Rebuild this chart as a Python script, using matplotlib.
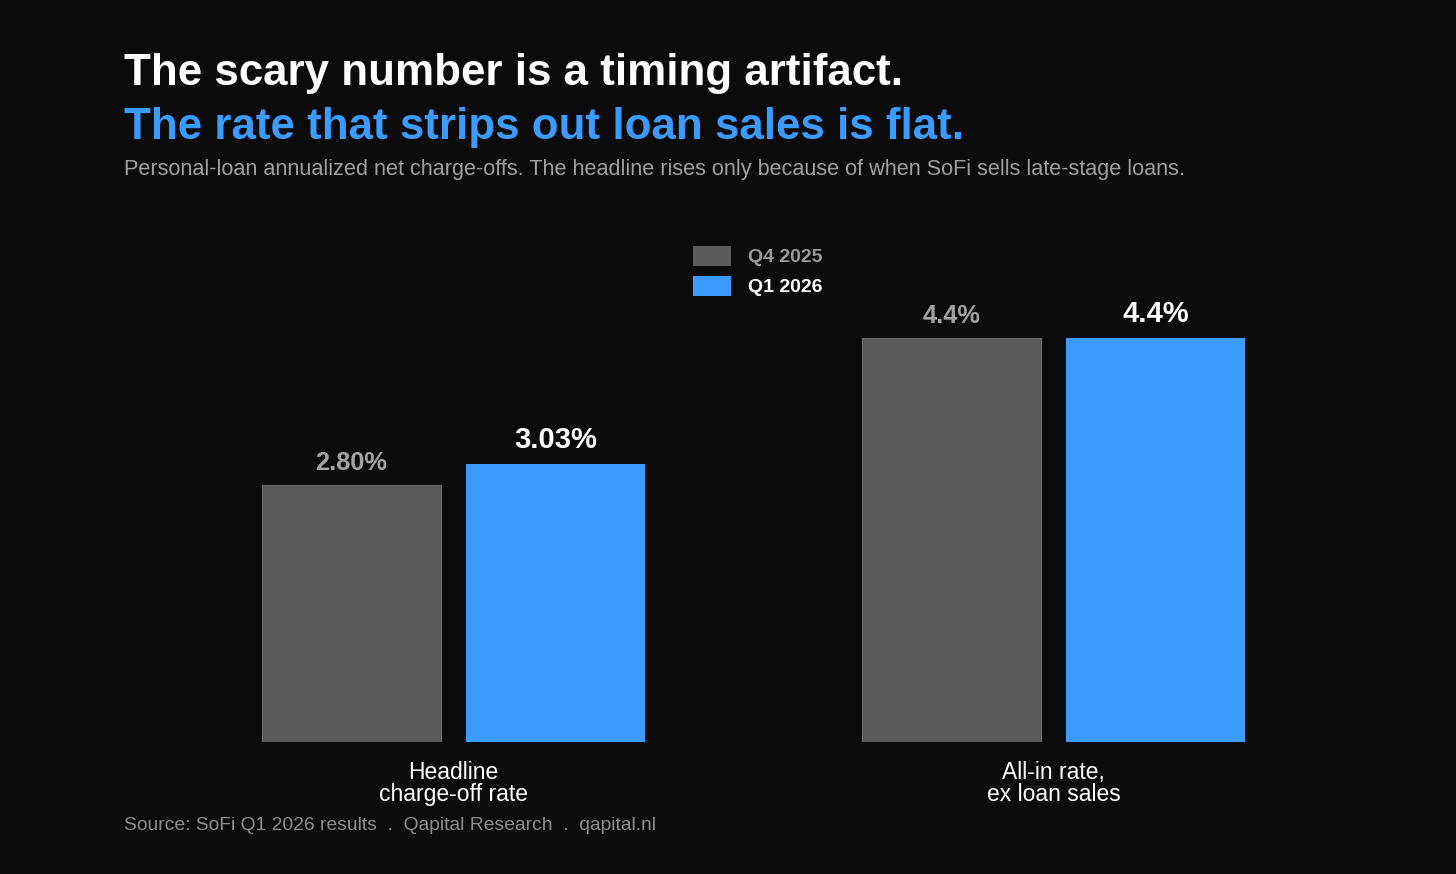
import numpy as np
import matplotlib.pyplot as plt
from matplotlib.patches import Rectangle

plt.rcParams['font.family'] = ['Liberation Sans', 'DejaVu Sans']

categories = ['Headline\ncharge-off rate', 'All-in rate,\nex loan sales']
series = ['Q4 2025', 'Q1 2026']
q4_2025 = [2.80, 4.4]
q1_2026 = [3.03, 4.4]
q4_labels = ['2.80%', '4.4%']
q1_labels = ['3.03%', '4.4%']

bg = '#0b0b0b'
grey = '#5b5b5b'
blue = '#3b9bff'

fig = plt.figure(figsize=(14.56, 8.74), dpi=100, facecolor=bg)
W, H = 1456, 874
ax = fig.add_axes([124 / W, (874 - 742) / H, 1260 / W, 504.9 / H])
ax.set_facecolor(bg)

x = np.arange(len(categories))
bw = 179 / 600
off = 102 / 600
ax.bar(x - off, q4_2025, bw, color=grey, edgecolor='#6a6a6a', linewidth=0.8, label=series[0])
ax.bar(x + off, q1_2026, bw, color=blue, label=series[1])
ax.set_xlim(-329.5 / 600, 930.5 / 600)
ax.set_ylim(0, 5.5)

for xi, v, t in zip(x - off, q4_2025, q4_labels):
    ax.annotate(t, (xi, v), xytext=(0, 7.5), textcoords='offset points', ha='center', va='bottom',
                fontsize=18.3, fontweight='bold', color='#a3a3a3')
for xi, v, t in zip(x + off, q1_2026, q1_labels):
    ax.annotate(t, (xi, v), xytext=(0, 7), textcoords='offset points', ha='center', va='bottom',
                fontsize=21, fontweight='bold', color='white')

ax.set_xticks(x)
ax.set_xticklabels(categories, color='white', fontsize=16.5, linespacing=0.92)
ax.tick_params(axis='x', length=0, pad=14)
ax.set_yticks([])
for s in ax.spines.values():
    s.set_visible(False)

# legend drawn by hand in figure pixels
leg_colors = [grey, blue]
leg_text = ['#9a9a9a', 'white']
for i, (name, c, tc) in enumerate(zip(series, leg_colors, leg_text)):
    y0 = 246 + 30 * i
    fig.add_artist(Rectangle((693 / W, 1 - (y0 + 20) / H), 38 / W, 20 / H,
                             transform=fig.transFigure, facecolor=c, edgecolor='none'))
    fig.text(748 / W, 1 - (y0 + 11) / H, name, color=tc, fontsize=14, fontweight='bold', va='center')

fig.text(124 / W, 1 - 73 / H, 'The scary number is a timing artifact.', color='white',
         fontsize=31.6, fontweight='bold', va='center')
fig.text(124 / W, 1 - 127 / H, 'The rate that strips out loan sales is flat.', color=blue,
         fontsize=31.6, fontweight='bold', va='center')
fig.text(124 / W, 1 - 169 / H,
         'Personal-loan annualized net charge-offs. The headline rises only because of when SoFi sells late-stage loans.',
         color='#a0a0a0', fontsize=15.6, va='center')
fig.text(124 / W, 1 - 825 / H, 'Source: SoFi Q1 2026 results  .  Qapital Research  .  qapital.nl',
         color='#8e8e8e', fontsize=13.9, va='center')

fig.savefig('out.png', dpi=100, facecolor=bg)
